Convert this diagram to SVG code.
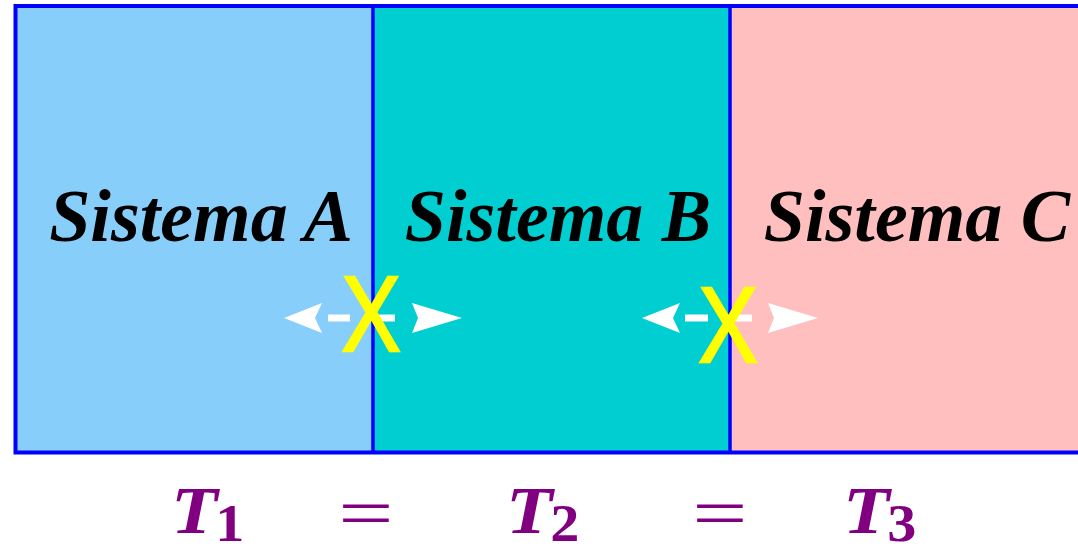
<svg xmlns="http://www.w3.org/2000/svg" width="1078" height="547" viewBox="0 0 1078 547">
<style>
.sys{font-family:'Liberation Serif','Times New Roman',serif;font-weight:bold;font-style:italic;font-size:74px;fill:#000;text-anchor:middle}
.T{font-family:'Liberation Serif','Times New Roman',serif;font-weight:bold;font-style:italic;font-size:68px;fill:#800080}
.sub{font-style:normal;font-size:52px}
.eq{font-family:'Liberation Serif','Times New Roman',serif;font-size:70px;fill:#800080;text-anchor:middle}
.x{font-family:'Liberation Sans',Arial,sans-serif;font-size:107px;fill:#ffff00;stroke:#ffff00;stroke-width:2.5;text-anchor:middle}
.head{fill:#fff}
.dash{stroke:#fff;stroke-width:7}
.div{stroke:#0000ff;stroke-width:3.5}
</style>
<rect width="1078" height="547" fill="#fff"/>
<g id="sistemaA">
<rect x="15.5" y="6" width="357.5" height="446.5" fill="#87cefa"/>
<text class="sys" x="201" y="241">Sistema A</text>
</g>
<g id="sistemaB">
<rect x="373" y="6" width="357" height="446.5" fill="#00ced1"/>
<text class="sys" x="558" y="241">Sistema B</text>
</g>
<g id="sistemaC">
<rect x="730" y="6" width="360" height="446.5" fill="#ffbfbf"/>
<text class="sys" x="917" y="241">Sistema C</text>
</g>
<g id="frame" fill="none" stroke="#0000ff">
<rect x="15.5" y="6" width="1080" height="446.5" stroke-width="4"/>
<line class="div" x1="373" y1="6" x2="373" y2="452"/>
<line class="div" x1="730" y1="6" x2="730" y2="452"/>
</g>
<g id="connectors">
<g id="arrowAB">
<polygon class="head" points="284,318 322,303 315,318 322,333"/>
<line class="dash" x1="328" y1="318" x2="350" y2="318"/>
<line class="dash" x1="372" y1="318" x2="395" y2="318"/>
<polygon class="head" points="462,318 412,303 418,318 412,333"/>
</g>
<g id="arrowBC">
<polygon class="head" points="642,318 680,303 673,318 680,333"/>
<line class="dash" x1="685" y1="318" x2="708" y2="318"/>
<line class="dash" x1="730" y1="318" x2="752" y2="318"/>
<polygon class="head" points="818,318 768,303 774,318 768,333"/>
</g>
</g>
<g id="blockAB">
<text class="x" transform="translate(371,351) scale(0.83,1)" x="0" y="0">X</text>
</g>
<g id="blockBC">
<text class="x" transform="translate(728,362) scale(0.83,1)" x="0" y="0">X</text>
</g>
<g id="equation">
<text class="T" transform="translate(171,533) scale(1.12,1)">T<tspan class="sub" dx="-2" dy="8">1</tspan></text>
<text class="eq" transform="translate(366,537) scale(1.4,1)">=</text>
<text class="T" transform="translate(506,533) scale(1.12,1)">T<tspan class="sub" dx="-2" dy="8">2</tspan></text>
<text class="eq" transform="translate(720,537) scale(1.4,1)">=</text>
<text class="T" transform="translate(843,533) scale(1.12,1)">T<tspan class="sub" dx="-2" dy="8">3</tspan></text>
</g>
</svg>
